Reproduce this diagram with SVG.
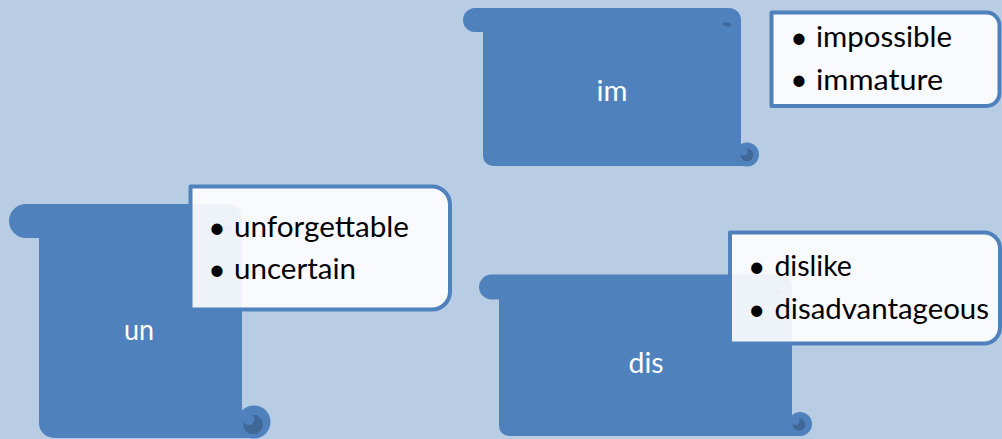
<svg xmlns="http://www.w3.org/2000/svg" width="1002" height="439" viewBox="0 0 1002 439">
<style>
.scroll{fill:#4F81BD}
.dark{fill:#3F6797}
.box{fill:#FFFFFF;fill-opacity:0.9;stroke:#4F81BD;stroke-width:4;stroke-linejoin:round}
.label{font-family:Lato,"Liberation Sans",sans-serif;font-size:28px;fill:#FFFFFF;text-anchor:middle}
.item{font-family:Lato,"Liberation Sans",sans-serif;font-size:28px;fill:#000000}
.bullet{font-family:Lato,"Liberation Sans",sans-serif;font-size:30px;fill:#000000;text-anchor:middle}
</style>
<rect x="0" y="0" width="1002" height="439" fill="#B8CCE4"/>
<g id="connectors"/>
<g id="node-im">
  <path class="scroll" d="M475,8 L729,8 A12,12 0 0 1 741,20 L741,154.5 L747,154.5 L747,166 L493,166 A10,10 0 0 1 483,156 L483,32 L475,32 A12,12 0 0 1 475,8 Z"/>
  <circle class="scroll" cx="747" cy="154.5" r="12"/>
  <circle class="dark" cx="747" cy="155" r="6.3"/>
  <circle class="scroll" cx="743.8" cy="151.8" r="3.8"/>
  <ellipse class="dark" cx="727" cy="24.5" rx="4.2" ry="1.8" transform="rotate(12 727 24.5)"/>
  <text class="label" x="612" y="101" textLength="31" lengthAdjust="spacingAndGlyphs">im</text>
</g>
<g id="list-im">
  <path class="box" d="M771.5,12.5 L986.5,12.5 A13,13 0 0 1 999.5,25.5 L999.5,93 A13,13 0 0 1 986.5,106 L771.5,106 Z"/>
  <text class="bullet" x="799" y="47.5">•</text>
  <text class="item" x="816" y="47" textLength="136" lengthAdjust="spacingAndGlyphs">impossible</text>
  <text class="bullet" x="799" y="90">•</text>
  <text class="item" x="816" y="89.5" textLength="127" lengthAdjust="spacingAndGlyphs">immature</text>
</g>
<g id="node-un">
  <path class="scroll" d="M26,204 L227,204 A15,15 0 0 1 242,219 L242,422 L254,422 L254,438 L54,438 A15,15 0 0 1 39,423 L39,238 L26,238 A17,17 0 0 1 26,204 Z"/>
  <circle class="scroll" cx="254" cy="422" r="16.5"/>
  <circle class="dark" cx="253" cy="424.5" r="9.8"/>
  <circle class="scroll" cx="248.5" cy="419.3" r="5.8"/>
  <ellipse class="dark" cx="227" cy="228" rx="5.5" ry="2.3" transform="rotate(12 227 228)"/>
  <text class="label" x="139" y="340" textLength="30" lengthAdjust="spacingAndGlyphs">un</text>
</g>
<g id="list-un">
  <path class="box" d="M190.5,186.5 L432,186.5 A18,18 0 0 1 450,204.5 L450,291.5 A18,18 0 0 1 432,309.5 L190.5,309.5 Z"/>
  <text class="bullet" x="217" y="237.5">•</text>
  <text class="item" x="234" y="237" textLength="175" lengthAdjust="spacingAndGlyphs">unforgettable</text>
  <text class="bullet" x="217" y="279.5">•</text>
  <text class="item" x="234" y="279" textLength="122" lengthAdjust="spacingAndGlyphs">uncertain</text>
</g>
<g id="node-dis">
  <path class="scroll" d="M491.5,274.5 L780,274.5 A12,12 0 0 1 792,286.5 L792,424 L800,424 L800,436 L509,436 A10,10 0 0 1 499,426 L499,299.5 L491.5,299.5 A12.5,12.5 0 0 1 491.5,274.5 Z"/>
  <circle class="scroll" cx="800" cy="424" r="12"/>
  <circle class="dark" cx="799" cy="424.5" r="6.3"/>
  <circle class="scroll" cx="795.8" cy="421.3" r="3.8"/>
  <ellipse class="dark" cx="777" cy="292" rx="4.2" ry="1.8" transform="rotate(12 777 292)"/>
  <text class="label" x="646" y="372.5" textLength="35" lengthAdjust="spacingAndGlyphs">dis</text>
</g>
<g id="list-dis">
  <path class="box" d="M730,232.5 L984,232.5 A16,16 0 0 1 1000,248.5 L1000,327.5 A16,16 0 0 1 984,343.5 L730,343.5 Z"/>
  <text class="bullet" x="756.7" y="276.5">•</text>
  <text class="item" x="774.4" y="276" textLength="77.5" lengthAdjust="spacingAndGlyphs">dislike</text>
  <text class="bullet" x="756.7" y="319.5">•</text>
  <text class="item" x="774.4" y="319" textLength="214.6" lengthAdjust="spacingAndGlyphs">disadvantageous</text>
</g>
</svg>
